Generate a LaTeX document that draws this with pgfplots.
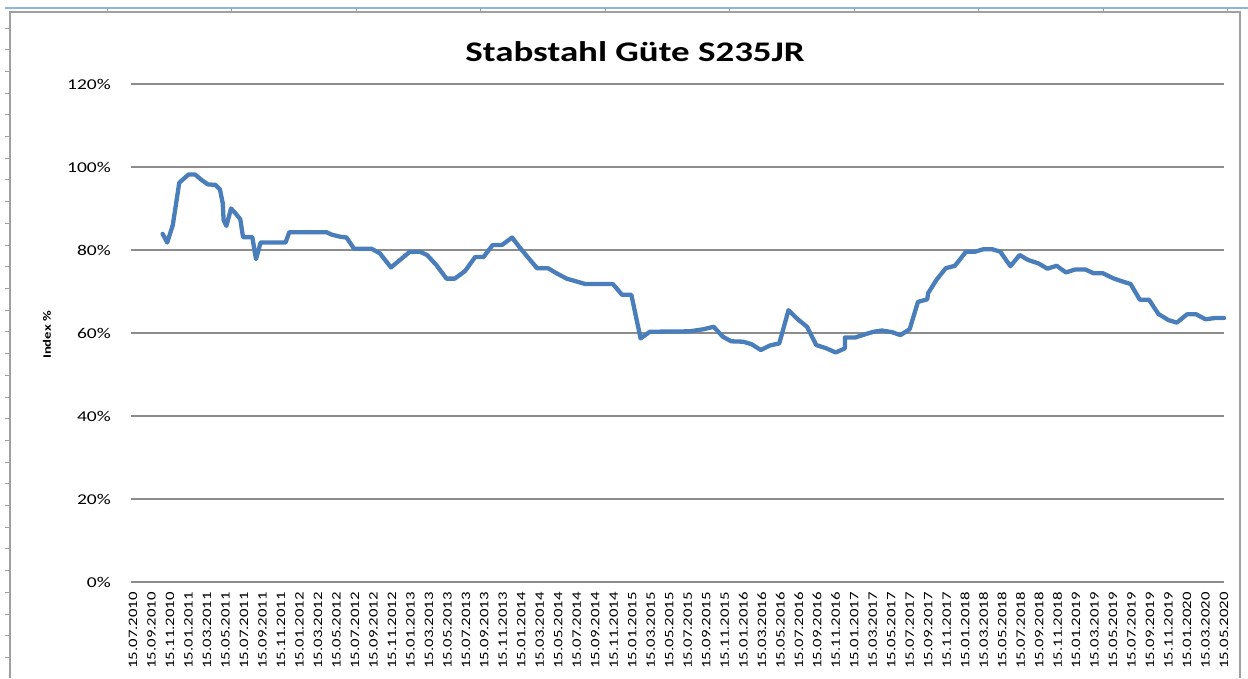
\documentclass[border=0pt]{standalone}
\usepackage{pgfplots}
\pgfplotsset{compat=1.18}
\usepackage{fontspec}
\setmainfont{Carlito}[FakeStretch=1.3]
\definecolor{exblue}{HTML}{4A7EBB}
\definecolor{gridgray}{HTML}{8C8C8C}
\definecolor{framegray}{HTML}{A0A0A0}
\definecolor{topblue}{HTML}{8EB4E3}
\pgfplotstableread{
m v
3.2 83.9
3.7 81.8
4.3 86.0
5.0 96.2
6.0 98.2
6.7 98.2
7.4 96.9
8.1 95.8
8.9 95.7
9.4 94.6
9.7 91.3
9.8 87.2
10.1 85.8
10.6 90.0
11.1 88.8
11.6 87.4
11.9 83.1
12.9 83.1
13.3 77.8
13.8 81.8
16.5 81.8
16.9 84.3
20.9 84.3
21.5 83.7
22.4 83.2
23.1 83.0
23.9 80.3
25.8 80.3
26.7 79.2
27.9 75.8
29.9 79.5
31.0 79.6
31.8 78.8
32.8 76.4
33.9 73.1
34.8 73.1
35.9 74.9
37.0 78.3
37.9 78.3
38.9 81.2
39.9 81.2
41.0 83.0
41.9 80.4
42.8 78.0
43.7 75.6
44.9 75.6
45.8 74.4
46.9 73.1
48.0 72.4
48.9 71.8
51.9 71.8
52.9 69.2
53.9 69.2
54.9 58.7
55.9 60.3
60.2 60.4
61.7 60.9
62.8 61.5
63.8 59.1
64.7 58.0
66.0 57.9
66.9 57.3
67.9 55.9
68.9 57.0
69.9 57.5
70.9 65.5
71.8 63.5
72.9 61.5
73.9 57.1
75.0 56.3
76.0 55.3
77.0 56.3
77.0 58.9
78.1 58.9
79.2 59.7
80.1 60.3
81.0 60.6
82.1 60.2
83.0 59.5
84.0 60.9
84.9 67.5
85.9 68.1
86.0 69.6
86.9 72.8
87.9 75.6
88.9 76.2
90.1 79.6
91.1 79.6
92.0 80.2
92.9 80.2
93.8 79.6
94.9 76.1
95.9 78.8
96.8 77.6
97.9 76.8
98.9 75.5
99.9 76.2
100.9 74.6
101.9 75.3
103.0 75.3
103.9 74.4
104.9 74.4
106.0 73.2
106.9 72.5
107.9 71.8
108.9 68.0
109.9 68.0
110.9 64.6
112.0 63.1
112.9 62.5
114.0 64.5
115.0 64.5
116.0 63.3
117.0 63.6
118.0 63.6
}\stahl
\begin{document}
\begin{tikzpicture}
\begin{axis}[
  width=1093pt, height=498pt, scale only axis,
  xmin=-0.22, xmax=118, ymin=0, ymax=120,
  axis line style={draw=none},
  tick style={draw=none},
  ymajorgrids,
  grid style={gridgray, line width=1.2pt},
  ytick={0,20,...,120},
  yticklabels={0\%,20\%,40\%,60\%,80\%,100\%,120\%},
  yticklabel style={font=\fontsize{15}{15}\selectfont, anchor=east, inner sep=0pt, xshift=-20pt},
  xtick={0,2,...,118},
  xticklabels={15.07.2010,15.09.2010,15.11.2010,
    15.01.2011,15.03.2011,15.05.2011,15.07.2011,15.09.2011,15.11.2011,
    15.01.2012,15.03.2012,15.05.2012,15.07.2012,15.09.2012,15.11.2012,
    15.01.2013,15.03.2013,15.05.2013,15.07.2013,15.09.2013,15.11.2013,
    15.01.2014,15.03.2014,15.05.2014,15.07.2014,15.09.2014,15.11.2014,
    15.01.2015,15.03.2015,15.05.2015,15.07.2015,15.09.2015,15.11.2015,
    15.01.2016,15.03.2016,15.05.2016,15.07.2016,15.09.2016,15.11.2016,
    15.01.2017,15.03.2017,15.05.2017,15.07.2017,15.09.2017,15.11.2017,
    15.01.2018,15.03.2018,15.05.2018,15.07.2018,15.09.2018,15.11.2018,
    15.01.2019,15.03.2019,15.05.2019,15.07.2019,15.09.2019,15.11.2019,
    15.01.2020,15.03.2020,15.05.2020},
  xticklabel style={font=\fontsize{12.9}{13}\selectfont, rotate=90, anchor=east, inner sep=0pt, xshift=-10pt},
  clip=false,
]
\addplot[exblue, line width=4.3pt, line join=round, line cap=round] table[x=m, y=v] {\stahl};
\end{axis}
\begin{scope}[shift={(-131pt,-96pt)}, x=1pt, y=1pt]
\path[use as bounding box] (0,0) rectangle (1248,678);
% spreadsheet frame
\draw[topblue, line width=1.5pt] (5,670) -- (1248,670);
\draw[framegray, line width=1.2pt] (10,0) -- (10,666) -- (1240,666) -- (1240,0);
\foreach \k in {0,...,29} \draw[framegray, line width=0.8pt] (5,{678-28-21.7*\k}) -- (10,{678-28-21.7*\k});
\foreach \k in {0,...,9} \draw[framegray, line width=0.8pt] ({107+124.5*\k},666) -- ({107+124.5*\k},670);
% title and y label
\node[anchor=base, font=\bfseries\fontsize{28.4}{30}\selectfont] at (635,616) {Stabstahl Güte S235JR};
\node[rotate=90, font=\bfseries\fontsize{11.3}{12}\selectfont] at (47,343) {Index \%};
\end{scope}
\end{tikzpicture}
\end{document}
